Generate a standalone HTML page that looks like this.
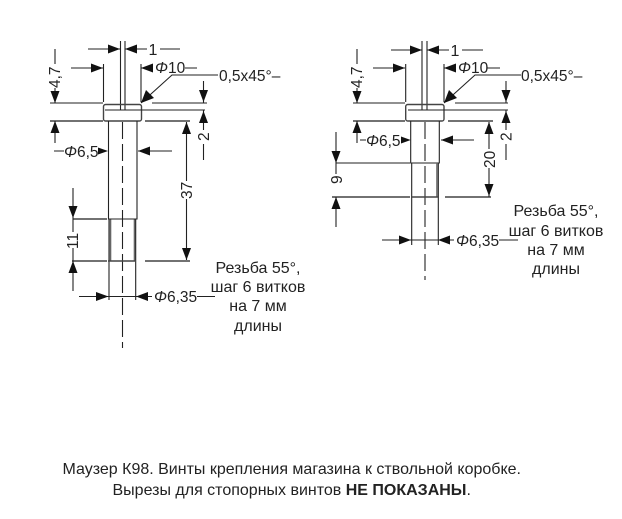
<!DOCTYPE html>
<html><head><meta charset="utf-8"><style>
html,body{margin:0;padding:0;background:#fff}
svg{display:block;filter:blur(.3px)}
text{font-family:"Liberation Sans",Arial,sans-serif;font-size:15.5px;fill:#222}
text.c{font-size:16px}
.m{text-anchor:middle}
.l{stroke:#222;stroke-width:1.1;fill:none}
.g{stroke:#444;stroke-width:1.4;fill:none}
.t{stroke:#666;stroke-width:1.6;fill:none}
.d{stroke:#222;stroke-width:1.1;fill:none;stroke-dasharray:17 5}
polygon{fill:#111}
</style></head><body>
<svg width="622" height="519" viewBox="0 0 622 519" xmlns="http://www.w3.org/2000/svg">
<rect width="622" height="519" fill="#fff"/>

<!-- LEFT -->
<path class="l" d="M120.500 41V110H125V41"/>
<path class="d" d="M122.500 122V348"/>
<rect class="g" x="103.500" y="104.500" width="38" height="16.500" rx="2"/>
<path class="l" d="M108.500 121V219H137V121M105 110H120"/>
<path class="t" d="M110.500 219V261M134.500 219V261"/>
<path class="l" d="M109 219V300M135.700 219V300M110 219H135"/>
<path class="g" d="M108 261H136M73 219H107M72 261H107M145 261H190M50 121H103M145 121H190"/>
<path class="l" d="M50 103H103M152 103H207M125 110H205M103.500 64V102M141 64V102"/>
<!-- dim 1 -->
<path class="l" d="M88 49H120M125 49H147M160 49H180"/>
<polygon points="120,49 108,44.500 108,53.500"/><polygon points="125,49 137,44.500 137,53.500"/>
<text class="c" x="148.500" y="55">1</text>
<!-- dim 10 -->
<path class="l" d="M71 68H103M141 68H153M185 68H197"/>
<polygon points="103,68 91,63.500 91,72.500"/><polygon points="141,68 153,63.500 153,72.500"/>
<text x="155" y="73"><tspan font-style="italic">Φ</tspan>10</text>
<!-- chamfer -->
<path class="l" d="M141 103L172 75H218"/>
<polygon points="141,103 146,90 154,98"/>
<text x="219" y="81">0,5x45°–</text>
<!-- 4,7 -->
<path class="l" d="M55 49V64M55 88V103M55 121V143"/>
<polygon points="55,103 50.500,91 59.500,91"/><polygon points="55,121 50.500,133 59.500,133"/>
<text transform="translate(60,88) rotate(-90)">4,7</text>
<!-- 2 -->
<path class="l" d="M203.500 81V103M203.500 110V130M203.500 144V160"/>
<polygon points="203.500,102 199,90 208,90"/><polygon points="203.500,111 199,123 208,123"/>
<text transform="translate(209,141) rotate(-90)">2</text>
<!-- 6,5 -->
<path class="l" d="M54 151H64M138 151H172"/>
<polygon points="108,151 98,147.500 98,154.500"/><polygon points="138,151 150,146.500 150,155.500"/>
<text x="64" y="157"><tspan font-style="italic">Φ</tspan>6,5</text>
<!-- 37 -->
<path class="l" d="M186.500 122V181M186.500 199V260"/>
<polygon points="186.500,122 182,134 191,134"/><polygon points="186.500,260 182,248 191,248"/>
<text transform="translate(192,199) rotate(-90)">37</text>
<!-- 11 -->
<path class="l" d="M73 188V232M73 248V291"/>
<polygon points="73,218 68.500,206 77.500,206"/><polygon points="73,261 68.500,273 77.500,273"/>
<text transform="translate(78,249) rotate(-90)">11</text>
<!-- 6,35 -->
<path class="l" d="M79 296.500H215"/>
<rect x="152" y="288" width="45" height="16" fill="#fff"/>
<polygon points="108.500,296.500 96,292 96,301"/><polygon points="136,296.500 148,292 148,301"/>
<text x="154" y="302"><tspan font-style="italic">Φ</tspan>6,35</text>
<text class="c m" x="258" y="273">Резьба 55°,</text>
<text class="c m" x="258" y="292">шаг 6 витков</text>
<text class="c m" x="258" y="311">на 7 мм</text>
<text class="c m" x="258" y="331">длины</text>

<!-- RIGHT -->
<path class="l" d="M422 41V110H427V41"/>
<path class="d" d="M425 122V280"/>
<rect class="g" x="405.700" y="104.500" width="38.300" height="16.500" rx="2"/>
<path class="l" d="M410.700 121V163H439.300V121M408 110H422"/>
<path class="l" d="M411.700 163V245M438.300 163V245"/>
<path class="t" d="M437 163V197"/>
<path class="g" d="M412 197H438M332 197H410M445 197H491M353 121H405M448 121H493"/>
<path class="l" d="M336 163H410M353 103H405M455 103H508M427 110H508M405.700 64V102M444 64V102"/>
<!-- 1 -->
<path class="l" d="M391 50H422M427 50H449M462 50H483"/>
<polygon points="422,50 410,45.500 410,54.500"/><polygon points="427,50 439,45.500 439,54.500"/>
<text class="c" x="450.500" y="56">1</text>
<!-- 10 -->
<path class="l" d="M373 68H405M444 68H456M487 68H500"/>
<polygon points="405,68 393,63.500 393,72.500"/><polygon points="444,68 456,63.500 456,72.500"/>
<text x="458" y="73"><tspan font-style="italic">Φ</tspan>10</text>
<!-- chamfer -->
<path class="l" d="M444 103L475 75H521"/>
<polygon points="444,103 449,90 457,98"/>
<text x="521" y="81">0,5x45°–</text>
<!-- 4,7 -->
<path class="l" d="M357 49V64M357 88V103M357 121V143"/>
<polygon points="357,103 352.500,91 361.500,91"/><polygon points="357,121 352.500,133 361.500,133"/>
<text transform="translate(362,88) rotate(-90)">4,7</text>
<!-- 2 -->
<path class="l" d="M506 81V103M506 110V130M506 144V160"/>
<polygon points="506,102 501.500,90 510.500,90"/><polygon points="506,111 501.500,123 510.500,123"/>
<text transform="translate(511.500,141) rotate(-90)">2</text>
<!-- 6,5 -->
<path class="l" d="M360 140H366M441 140H474"/>
<polygon points="410.700,140 401,136.500 401,143.500"/><polygon points="441,140 453,135.500 453,144.500"/>
<text x="366" y="146"><tspan font-style="italic">Φ</tspan>6,5</text>
<!-- 20 -->
<path class="l" d="M489 122V149M489 168V197"/>
<polygon points="489,122 484.500,134 493.500,134"/><polygon points="489,196 484.500,184 493.500,184"/>
<text transform="translate(495,168) rotate(-90)">20</text>
<!-- 9 -->
<path class="l" d="M336 132V174M336 197V227"/>
<polygon points="336,163 331.500,151 340.500,151"/><polygon points="336,197 331.500,209 340.500,209"/>
<text transform="translate(342,184) rotate(-90)">9</text>
<!-- 6,35 -->
<path class="l" d="M382 240H518"/>
<rect x="454" y="232" width="45" height="16" fill="#fff"/>
<polygon points="411,240 399,235.500 399,244.500"/><polygon points="438,240 450,235.500 450,244.500"/>
<text x="456" y="246"><tspan font-style="italic">Φ</tspan>6,35</text>
<text class="c m" x="556" y="216">Резьба 55°,</text>
<text class="c m" x="556" y="236">шаг 6 витков</text>
<text class="c m" x="556" y="255">на 7 мм</text>
<text class="c m" x="556" y="274">длины</text>

<!-- Caption -->
<text class="c" x="62.500" y="474">Маузер К98. Винты крепления магазина к ствольной коробке.</text>
<text class="c" x="112.500" y="495">Вырезы для стопорных винтов <tspan font-weight="bold">НЕ ПОКАЗАНЫ</tspan>.</text>
</svg>
</body></html>
